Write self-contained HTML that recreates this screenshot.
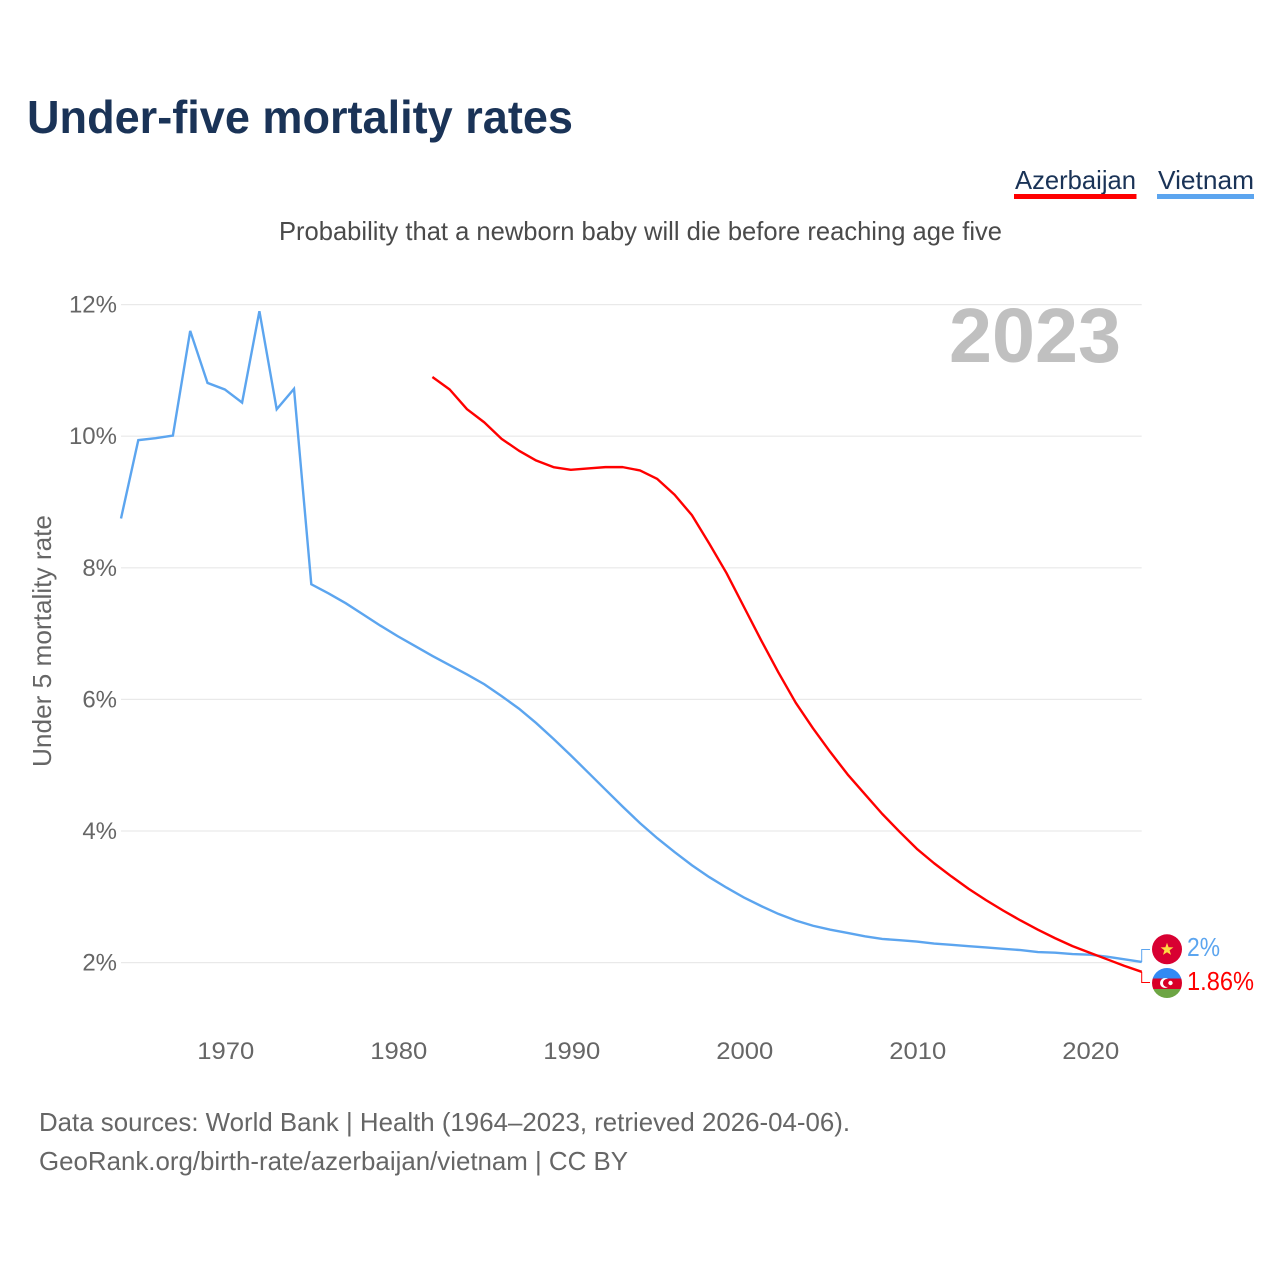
<!DOCTYPE html>
<html lang="en">
<head>
<meta charset="utf-8">
<title>Under-five mortality rates</title>
<style>
html,body{margin:0;padding:0;background:#fff;width:1280px;height:1280px;overflow:hidden}
svg{display:block;font-family:"Liberation Sans",sans-serif}
</style>
</head>
<body>
<svg id="chart" width="1280" height="1280" viewBox="0 0 1280 1280" xmlns="http://www.w3.org/2000/svg">
  <rect width="1280" height="1280" fill="#fff"/>
  <text x="27" y="133" font-size="46" font-weight="700" fill="#1a3357" textLength="546" lengthAdjust="spacingAndGlyphs">Under-five mortality rates</text>

  <text x="1015" y="189" font-size="26" fill="#1a3357" textLength="121" lengthAdjust="spacingAndGlyphs">Azerbaijan</text>
  <rect x="1014" y="194" width="122.5" height="5" fill="#ff0000"/>
  <text x="1158" y="189" font-size="26" fill="#1a3357" textLength="96" lengthAdjust="spacingAndGlyphs">Vietnam</text>
  <rect x="1157" y="194" width="97" height="5" fill="#5ca5ef"/>

  <text x="279" y="240" font-size="26" fill="#4a4a4a" textLength="723" lengthAdjust="spacingAndGlyphs">Probability that a newborn baby will die before reaching age five</text>

  <g id="grid"></g>
  <g id="yticks"></g>
  <g id="xticks"></g>

  <text transform="translate(51 767) rotate(-90)" font-size="26" fill="#666" textLength="252" lengthAdjust="spacingAndGlyphs">Under 5 mortality rate</text>
  <text x="949" y="362" font-size="77" font-weight="700" fill="#c0c0c0" textLength="172" lengthAdjust="spacingAndGlyphs">2023</text>

  <g id="series"></g>

  <defs>
    <clipPath id="az-clip"><circle cx="1167" cy="983" r="15"/></clipPath>
  </defs>
  <g>
    <circle cx="1167" cy="949.3" r="15" fill="#d80032"/>
    <polygon fill="#ffda44" points="1167,942.8 1168.6,947.3 1173.4,947.4 1169.6,950.3 1171,954.9 1167,952.2 1163,954.9 1164.4,950.3 1160.6,947.4 1165.4,947.3"/>
  </g>
  <g>
    <g clip-path="url(#az-clip)">
      <rect x="1152" y="968" width="30" height="10.5" fill="#338af3"/>
      <rect x="1152" y="978.5" width="30" height="10.5" fill="#d80027"/>
      <rect x="1152" y="989" width="30" height="9" fill="#6da544"/>
    </g>
    <circle cx="1165" cy="983" r="5" fill="#fff"/>
    <circle cx="1167" cy="983" r="4" fill="#d80027"/>
    <circle cx="1170.5" cy="983" r="2.2" fill="#fff"/>
  </g>
  <g id="end-labels"></g>

  <text x="39" y="1131" font-size="26" fill="#666" textLength="811" lengthAdjust="spacingAndGlyphs">Data sources: World Bank | Health (1964–2023, retrieved 2026-04-06).</text>
  <text x="39" y="1170" font-size="26" fill="#666" textLength="589" lengthAdjust="spacingAndGlyphs">GeoRank.org/birth-rate/azerbaijan/vietnam | CC BY</text>
</svg>
<script>
const vietnamStartYear = 1964;
const azerbaijanStartYear = 1982;
const vietnamValues = [8.75,9.94,9.97,10.01,11.60,10.81,10.71,10.51,11.90,10.41,10.72,7.75,7.61,7.46,7.29,7.12,6.96,6.81,6.66,6.52,6.38,6.23,6.05,5.86,5.64,5.40,5.15,4.89,4.63,4.37,4.12,3.89,3.68,3.48,3.30,3.14,2.99,2.86,2.74,2.64,2.56,2.50,2.45,2.40,2.36,2.34,2.32,2.29,2.27,2.25,2.23,2.21,2.19,2.16,2.15,2.13,2.12,2.09,2.05,2.01];
const azerbaijanValues = [10.90,10.71,10.41,10.21,9.96,9.78,9.63,9.53,9.49,9.51,9.53,9.53,9.48,9.35,9.11,8.80,8.37,7.92,7.41,6.90,6.41,5.95,5.56,5.20,4.86,4.56,4.26,3.99,3.73,3.51,3.31,3.12,2.95,2.79,2.64,2.50,2.37,2.25,2.15,2.05,1.95,1.86];
const yTickValues = [2,4,6,8,10,12];
const xTickYears = [1970,1980,1990,2000,2010,2020];
const endLabelVietnam = '2%';
const endLabelAzerbaijan = '1.86%';

const NS = 'http://www.w3.org/2000/svg';
function xScale(year){ return 121 + 17.3 * (year - 1964); }
function yScale(v){ return 962.6 + (2 - v) * 65.8; }
function make(tag, attrs, parent){
  const el = document.createElementNS(NS, tag);
  for (const k in attrs) el.setAttribute(k, attrs[k]);
  parent.appendChild(el);
  return el;
}
const gridG = document.getElementById('grid');
const yG = document.getElementById('yticks');
const xG = document.getElementById('xticks');
const seriesG = document.getElementById('series');
const labelsG = document.getElementById('end-labels');

yTickValues.forEach(function(v){
  const line = make('line', {x1:xScale(1964), x2:xScale(2023), y1:yScale(v), y2:yScale(v), stroke:'#e9e9e9', 'stroke-width':1.2}, gridG);
  
  
  const t = make('text', {x:117, y:yScale(v)+8, 'text-anchor':'end', 'font-size':24, fill:'#666'}, yG);
  t.textContent = v + '%';
  
  
});

xTickYears.forEach(function(yr){
  const t = make('text', {x:xScale(yr)-27.5, y:1059, 'font-size':24, fill:'#666', textLength:57, lengthAdjust:'spacingAndGlyphs'}, xG);
  t.textContent = String(yr);
  
  
});

function linePoints(values, startYear){
  return values.map(function(v, i){
    return xScale(startYear + i).toFixed(2) + ',' + yScale(v).toFixed(2);
  }).join(' ');
}
const lineVN = make('polyline', {points:linePoints(vietnamValues, vietnamStartYear), fill:'none', stroke:'#5ca5ef', 'stroke-width':2.4, 'stroke-linejoin':'miter'}, seriesG);


const lineAZ = make('polyline', {points:linePoints(azerbaijanValues, azerbaijanStartYear), fill:'none', stroke:'#ff0000', 'stroke-width':2.4, 'stroke-linejoin':'round'}, seriesG);



const lastX = xScale(2023);
const vnEndY = yScale(vietnamValues[vietnamValues.length - 1]);
const azEndY = yScale(azerbaijanValues[azerbaijanValues.length - 1]);
const connVN = make('polyline', {points:lastX+','+vnEndY+' '+lastX+',949.5 1150,949.5', fill:'none', stroke:'#5ca5ef', 'stroke-width':1}, labelsG);


const connAZ = make('polyline', {points:lastX+','+azEndY+' '+lastX+',982.5 1150,982.5', fill:'none', stroke:'#ff0000', 'stroke-width':1}, labelsG);


const lblVN = make('text', {x:1187, y:956, 'font-size':26, fill:'#5ca5ef', textLength:33, lengthAdjust:'spacingAndGlyphs'}, labelsG);
lblVN.textContent = endLabelVietnam;


const lblAZ = make('text', {x:1187, y:990, 'font-size':26, fill:'#ff0000', textLength:67, lengthAdjust:'spacingAndGlyphs'}, labelsG);
lblAZ.textContent = endLabelAzerbaijan;


</script>
</body>
</html>
